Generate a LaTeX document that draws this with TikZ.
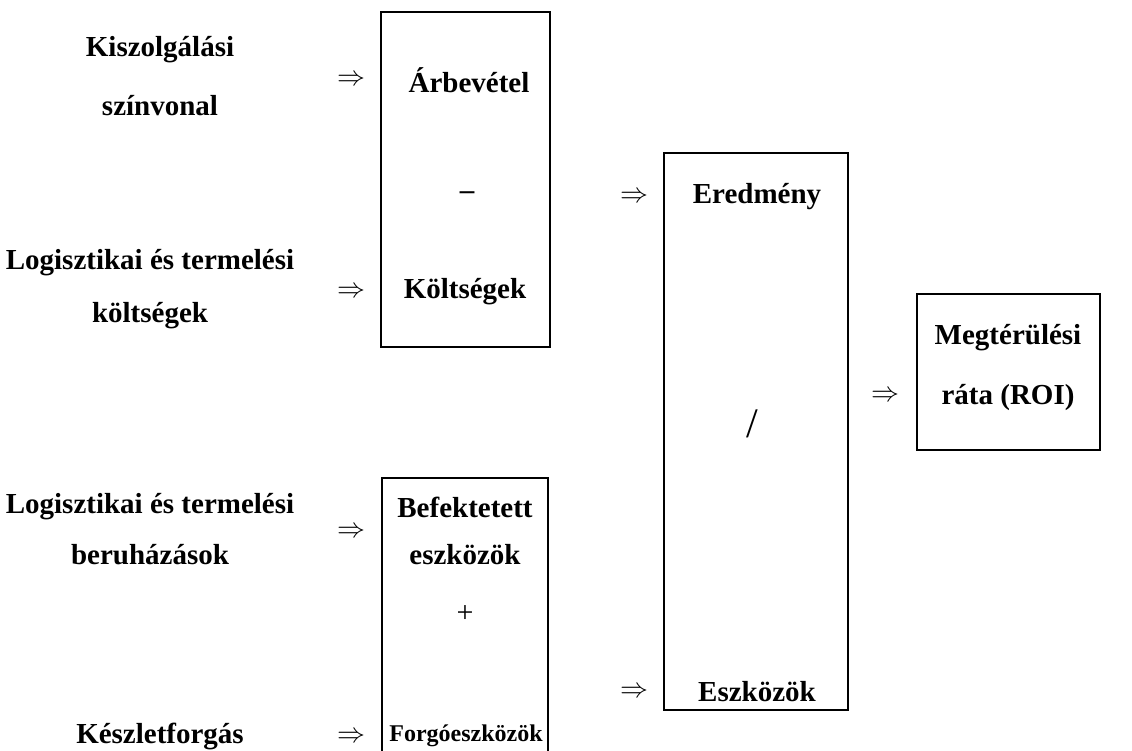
\documentclass[tikz,border=0pt]{standalone}
\usepackage{fontspec}
\setmainfont{Liberation Serif}
\begin{document}
\begin{tikzpicture}[x=1pt,y=-1pt,
  frame/.style={draw=black, line width=1.6pt, inner sep=0pt},
  lbl/.style={font=\fontsize{29}{34}\selectfont\bfseries, inner sep=0pt, anchor=center},
  imp/.style={inner sep=0pt, anchor=center}]
  \useasboundingbox (0,0) rectangle (1132,751);
  \clip (0,0) rectangle (1132,751);
  \newcommand{\impl}{\scalebox{2.8}{$\Rightarrow$}}

  % boxes
  \node[frame, minimum width=169pt, minimum height=335pt] (rev) at (465.5,179.5) {};
  \node[frame, minimum width=184pt, minimum height=557pt] (res) at (756,431.5) {};
  \node[frame, minimum width=166pt, minimum height=300pt] (ast) at (465,628) {};
  \node[frame, minimum width=183pt, minimum height=156pt] (roi) at (1008.5,372) {};

  % left-hand drivers
  \node[lbl] (ks1) at (160,50) {Kiszolgálási};
  \node[lbl] (ks2) at (160,106) {színvonal};
  \node[lbl] (lk1) at (150,263) {Logisztikai és termelési};
  \node[lbl] (lk2) at (150,316) {költségek};
  \node[lbl] (lb1) at (150,507) {Logisztikai és termelési};
  \node[lbl] (lb2) at (150,555) {beruházások};
  \node[lbl] (kf) at (160,736) {Készletforgás};

  % implication signs
  \node[imp] (i1) at (351,80) {\impl};
  \node[imp] (i2) at (351,292) {\impl};
  \node[imp] (i3) at (351,532) {\impl};
  \node[imp] (i4) at (351,737) {\impl};
  \node[imp] (i5) at (634,197) {\impl};
  \node[imp] (i6) at (634,692) {\impl};
  \node[imp] (i7) at (885,396) {\impl};

  % box contents
  \node[lbl] (t1) at (469,80) {Árbevétel};
  \node[lbl] (t2) at (467,196) {–};
  \node[lbl] (t3) at (465,292) {Költségek};
  \node[lbl] (t4) at (757,197) {Eredmény};
  \node[lbl, font=\fontsize{42}{44}\selectfont] (t5) at (752,424) {/};
  \node[lbl] (t6) at (757,692) {Eszközök};
  \node[lbl] (t7) at (465,507) {Befektetett};
  \node[lbl] (t8) at (465,555) {eszközök};
  \node[lbl, font=\fontsize{30}{34}\selectfont] (t9) at (465,614) {+};
  \node[lbl, font=\fontsize{24}{28}\selectfont\bfseries] (t10) at (466,736) {Forgóeszközök};
  \node[lbl] (t11) at (1008,338) {Megtérülési};
  \node[lbl] (t12) at (1008,398) {ráta (ROI)};
\end{tikzpicture}
\end{document}
